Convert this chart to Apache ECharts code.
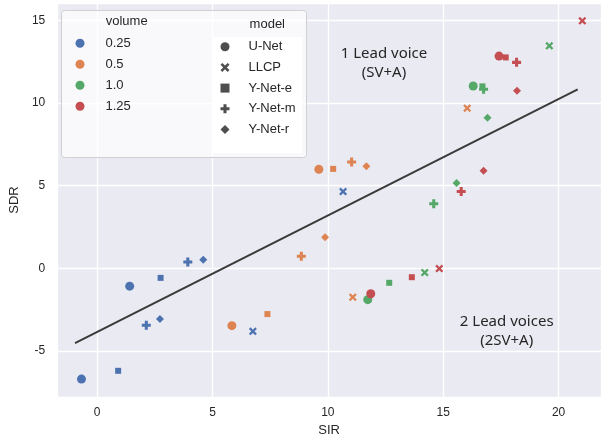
<!DOCTYPE html>
<html>
<head>
<meta charset="utf-8">
<script src="https://cdn.jsdelivr.net/npm/echarts@6/dist/echarts.min.js"></script>
<style>
html,body{margin:0;padding:0;background:#fff;}
#chart{width:601px;height:442px;}
</style>
</head>
<body>
<div id="chart"></div>
<script>
// Model order within each array: U-Net, LLCP, Y-Net-e, Y-Net-m, Y-Net-r
// first five = 1 lead voice (SV+A), last five = 2 lead voices (2SV+A)
const models = ['U-Net', 'LLCP', 'Y-Net-e', 'Y-Net-m', 'Y-Net-r'];
const volumes = ['0.25', '0.5', '1.0', '1.25'];

const sirVol025 = [1.41, 10.66, 2.75, 3.93, 4.60, -0.68, 6.75, 0.91, 2.13, 2.72];
const sdrVol025 = [-1.08, 4.64, -0.58, 0.38, 0.51, -6.70, -3.81, -6.20, -3.45, -3.07];
const sirVol05 = [9.61, 16.04, 10.23, 11.03, 11.67, 5.84, 11.08, 7.38, 8.85, 9.88];
const sdrVol05 = [5.98, 9.68, 6.01, 6.43, 6.17, -3.47, -1.75, -2.77, 0.73, 1.87];
const sirVol10 = [16.30, 19.60, 16.70, 16.75, 16.92, 11.73, 14.20, 12.66, 14.59, 15.58];
const sdrVol10 = [11.02, 13.45, 11.00, 10.82, 9.10, -1.90, -0.26, -0.88, 3.90, 5.16];
const sirVol125 = [17.42, 21.03, 17.71, 18.18, 18.20, 11.86, 14.83, 13.64, 15.78, 16.75];
const sdrVol125 = [12.83, 14.96, 12.75, 12.45, 10.74, -1.54, -0.02, -0.54, 4.64, 5.90];

const fitSIR = [-0.96, 20.83];
const fitSDR = [-4.52, 10.82];

const annotations = ['1 Lead voice', '(SV+A)', '2 Lead voices', '(2SV+A)'];

const colors = ['#4C72B0', '#DD8452', '#55A868', '#C44E52'];
const plusPath = 'path://M3.3,0 H6.7 V3.3 H10 V6.7 H6.7 V10 H3.3 V6.7 H0 V3.3 H3.3 Z';
const xPath = 'path://M0,2 L2,0 L5,3 L8,0 L10,2 L7,5 L10,8 L8,10 L5,7 L2,10 L0,8 L3,5 Z';
const modelSymbols = ['circle', xPath, 'rect', plusPath, 'diamond'];
const modelSizes = [9, 8, 6, 9, 8];

const sirs = [sirVol025, sirVol05, sirVol10, sirVol125];
const sdrs = [sdrVol025, sdrVol05, sdrVol10, sdrVol125];

const font = '"Liberation Sans", Arial, sans-serif';

const series = volumes.map((v, vi) => ({
  name: v,
  type: 'scatter',
  symbol: 'circle',
  itemStyle: { color: colors[vi], opacity: 1 },
  z: 5,
  data: sirs[vi].map((x, i) => ({
    value: [x, sdrs[vi][i]],
    symbol: modelSymbols[i % 5],
    symbolSize: modelSizes[i % 5]
  }))
}));

models.forEach((m, mi) => {
  series.push({
    name: m,
    type: 'scatter',
    symbol: modelSymbols[mi],
    itemStyle: { color: '#222222' },
    data: []
  });
});

series.push({
  name: 'fit',
  type: 'line',
  data: fitSIR.map((x, i) => [x, fitSDR[i]]),
  symbol: 'none',
  lineStyle: { color: '#3a3a3a', width: 2 },
  z: 4,
  silent: true
});

const chart = echarts.init(document.getElementById('chart'), null, { renderer: 'canvas' });
chart.setOption({
  animation: false,
  backgroundColor: '#ffffff',
  grid: {
    left: 55, right: 0, top: 3, bottom: 40.3,
    show: true, backgroundColor: '#EAEAF2', borderWidth: 0
  },
  xAxis: {
    type: 'value',
    min: -1.73, max: 21.84,
    splitNumber: 5,
    name: 'SIR',
    nameLocation: 'middle',
    nameGap: 25,
    nameTextStyle: { fontFamily: font, fontSize: 13, color: '#262626' },
    axisLine: { show: false },
    axisTick: { show: false },
    axisLabel: { showMinLabel: false, showMaxLabel: false, margin: 10, fontFamily: font, fontSize: 12, color: '#262626' },
    splitLine: { show: true, lineStyle: { color: '#ffffff', width: 1.3 } }
  },
  yAxis: {
    type: 'value',
    min: -7.79, max: 16.04,
    splitNumber: 5,
    name: 'SDR',
    nameLocation: 'middle',
    nameGap: 33,
    nameTextStyle: { fontFamily: font, fontSize: 13, color: '#262626' },
    axisLine: { show: false },
    axisTick: { show: false },
    axisLabel: { showMinLabel: false, showMaxLabel: false, margin: 12, fontFamily: font, fontSize: 12, color: '#262626' },
    splitLine: { show: true, lineStyle: { color: '#ffffff', width: 1.3 } }
  },
  legend: [
    {
      data: volumes.map(v => ({ name: v, icon: 'circle' })),
      orient: 'vertical',
      left: 75.5, top: 36.3,
      padding: 0,
      itemWidth: 9, itemHeight: 14, itemGap: 7,
      selectedMode: false,
      z: 20,
      textStyle: { fontFamily: font, fontSize: 13, color: '#262626', lineHeight: 14, padding: [0, 0, 0, 16] }
    },
    {
      data: models.map((m, mi) => ({ name: m, icon: modelSymbols[mi] })),
      orient: 'vertical',
      left: 220.5, top: 39.7,
      padding: 0,
      itemWidth: 9, itemHeight: 9, itemGap: 6.7,
      selectedMode: false,
      z: 20,
      textStyle: { fontFamily: font, fontSize: 13, color: '#262626', lineHeight: 14, padding: [0, 0, 0, 14] }
    }
  ],
  graphic: [
    { type: 'rect', z: 10, shape: { x: 61.5, y: 10.5, width: 245, height: 147, r: 3 },
      style: { fill: 'rgba(255,255,255,0.72)', stroke: '#d0d0d0', lineWidth: 1 } },
    { type: 'rect', z: 11, shape: { x: 212, y: 37, width: 90, height: 116 },
      style: { fill: '#ffffff' } },
    { type: 'text', z: 21, x: 126.7, y: 21.7,
      style: { text: 'volume', fontFamily: font, fontSize: 13, fill: '#262626', align: 'center', verticalAlign: 'middle' } },
    { type: 'text', z: 21, x: 267.3, y: 24,
      style: { text: 'model', fontFamily: font, fontSize: 13, fill: '#262626', align: 'center', verticalAlign: 'middle' } },
    { type: 'text', z: 21, x: 384, y: 53.3,
      style: { text: annotations[0], fontFamily: '"Noto Sans", sans-serif', fontSize: 15, fill: '#262626', align: 'center', verticalAlign: 'middle' } },
    { type: 'text', z: 21, x: 384, y: 72.3,
      style: { text: annotations[1], fontFamily: '"Noto Sans", sans-serif', fontSize: 15, fill: '#262626', align: 'center', verticalAlign: 'middle' } },
    { type: 'text', z: 21, x: 506.7, y: 321.7,
      style: { text: annotations[2], fontFamily: '"Noto Sans", sans-serif', fontSize: 15, fill: '#262626', align: 'center', verticalAlign: 'middle' } },
    { type: 'text', z: 21, x: 506.7, y: 340.7,
      style: { text: annotations[3], fontFamily: '"Noto Sans", sans-serif', fontSize: 15, fill: '#262626', align: 'center', verticalAlign: 'middle' } }
  ],
  series: series
});
</script>
</body>
</html>
